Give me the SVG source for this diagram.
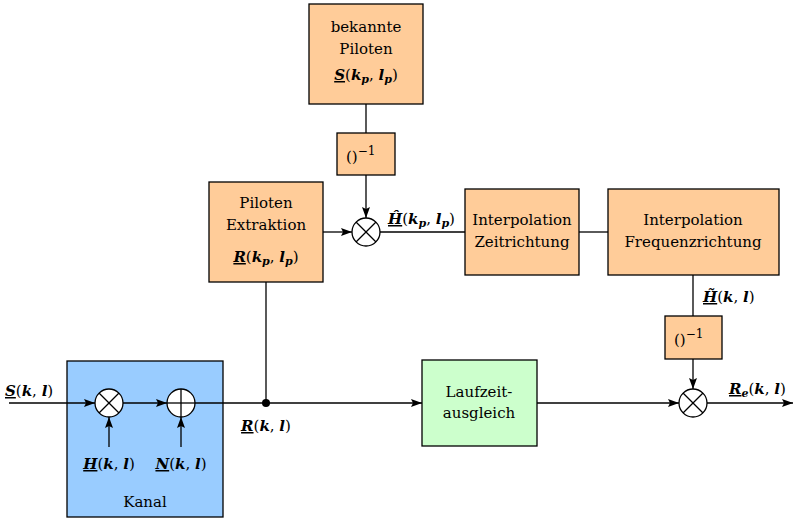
<svg xmlns="http://www.w3.org/2000/svg" width="793" height="518" viewBox="0 0 793 518" font-family="'DejaVu Serif', 'Liberation Serif', serif">
<style>
.box{stroke:#000;stroke-width:1.3}
.or{fill:#FFCC99}
.bl{fill:#99CCFF}
.gr{fill:#CCFFCC}
.op{fill:#fff;stroke:#000;stroke-width:1.3}
.x{stroke:#000;stroke-width:1.3}
.c{stroke:#000;stroke-width:1.3;fill:none}
text{font-family:'DejaVu Serif','Liberation Serif',serif;font-size:15px;fill:#000}
.b{font-weight:bold;font-style:italic}
.u{font-weight:bold;font-style:italic;text-decoration:underline}
.s{font-size:11px;font-weight:bold;font-style:italic}
</style>
<defs>
<marker id="ah" markerUnits="userSpaceOnUse" markerWidth="11" markerHeight="8" refX="11" refY="4" orient="auto">
<path d="M0,0 L11,4 L0,8 L2,4 z" fill="#000"/>
</marker>
</defs>

<g id="kanal">
<rect class="box bl" x="67" y="361" width="156" height="156"/>
<text x="145" y="507" text-anchor="middle">Kanal</text>
</g>

<g id="connectors">
<line class="c" x1="366" y1="104" x2="366" y2="133"/>
<line class="c" x1="366" y1="175" x2="366" y2="218" marker-end="url(#ah)"/>
<line class="c" x1="323" y1="232" x2="352" y2="232" marker-end="url(#ah)"/>
<line class="c" x1="380" y1="232" x2="465" y2="232"/>
<line class="c" x1="579" y1="232" x2="608" y2="232"/>
<line class="c" x1="693" y1="275" x2="693" y2="316"/>
<line class="c" x1="693" y1="359" x2="693" y2="389" marker-end="url(#ah)"/>
<line class="c" x1="9" y1="403" x2="95" y2="403" marker-end="url(#ah)"/>
<line class="c" x1="123" y1="403" x2="167" y2="403" marker-end="url(#ah)"/>
<line class="c" x1="195" y1="403" x2="422" y2="403" marker-end="url(#ah)"/>
<line class="c" x1="266" y1="403" x2="266" y2="282"/>
<circle cx="266" cy="403" r="4" fill="#000"/>
<line class="c" x1="109" y1="447" x2="109" y2="417" marker-end="url(#ah)"/>
<line class="c" x1="181" y1="447" x2="181" y2="417" marker-end="url(#ah)"/>
<line class="c" x1="537" y1="403" x2="679" y2="403" marker-end="url(#ah)"/>
<line class="c" x1="707" y1="403" x2="793" y2="403" marker-end="url(#ah)"/>
</g>

<g id="mult1">
<circle class="op" cx="109" cy="403" r="14"/>
<line class="x" x1="99" y1="393" x2="119" y2="413"/>
<line class="x" x1="119" y1="393" x2="99" y2="413"/>
</g>

<g id="add1">
<circle class="op" cx="181" cy="403" r="14"/>
<line class="x" x1="167" y1="403" x2="195" y2="403"/>
<line class="x" x1="181" y1="389" x2="181" y2="417"/>
</g>

<g id="bekannte">
<rect class="box or" x="309" y="4" width="114" height="100"/>
<text x="366" y="32" text-anchor="middle">bekannte</text>
<text x="366" y="54" text-anchor="middle">Piloten</text>
<text x="366" y="80" text-anchor="middle"><tspan class="u">S</tspan>(<tspan class="b">k</tspan><tspan class="s" dy="3">p</tspan><tspan dy="-3">, </tspan><tspan class="b">l</tspan><tspan class="s" dy="3">p</tspan><tspan dy="-3">)</tspan></text>
</g>

<g id="inv1">
<rect class="box or" x="337" y="133" width="58" height="42"/>
<text x="346" y="162" font-size="18">()<tspan font-size="12" dy="-7">−1</tspan></text>
</g>

<g id="mult2">
<circle class="op" cx="366" cy="232" r="14"/>
<line class="x" x1="356" y1="222" x2="376" y2="242"/>
<line class="x" x1="376" y1="222" x2="356" y2="242"/>
</g>

<g id="extraktion">
<rect class="box or" x="209" y="182" width="114" height="100"/>
<text x="266" y="208" text-anchor="middle">Piloten</text>
<text x="266" y="230" text-anchor="middle">Extraktion</text>
<text x="266" y="262" text-anchor="middle"><tspan class="u">R</tspan>(<tspan class="b">k</tspan><tspan class="s" dy="3">p</tspan><tspan dy="-3">, </tspan><tspan class="b">l</tspan><tspan class="s" dy="3">p</tspan><tspan dy="-3">)</tspan></text>
</g>

<g id="zeit">
<rect class="box or" x="465" y="189" width="114" height="86"/>
<text x="522" y="225" text-anchor="middle">Interpolation</text>
<text x="522" y="247" text-anchor="middle">Zeitrichtung</text>
</g>

<g id="frequenz">
<rect class="box or" x="608" y="189" width="171" height="86"/>
<text x="693" y="225" text-anchor="middle">Interpolation</text>
<text x="693" y="247" text-anchor="middle">Frequenzrichtung</text>
</g>

<g id="inv2">
<rect class="box or" x="665" y="316" width="57" height="43"/>
<text x="674" y="345" font-size="18">()<tspan font-size="12" dy="-7">−1</tspan></text>
</g>

<g id="mult3">
<circle class="op" cx="693" cy="403" r="14"/>
<line class="x" x1="683" y1="393" x2="703" y2="413"/>
<line class="x" x1="703" y1="393" x2="683" y2="413"/>
</g>

<g id="laufzeit">
<rect class="box gr" x="422" y="360" width="115" height="86"/>
<text x="479" y="397" text-anchor="middle">Laufzeit-</text>
<text x="479" y="418" text-anchor="middle">ausgleich</text>
</g>

<g id="labels">
<text x="5" y="396"><tspan class="u">S</tspan>(<tspan class="b">k</tspan>, <tspan class="b">l</tspan>)</text>
<text x="109" y="469" text-anchor="middle"><tspan class="u">H</tspan>(<tspan class="b">k</tspan>, <tspan class="b">l</tspan>)</text>
<text x="181" y="469" text-anchor="middle"><tspan class="u">N</tspan>(<tspan class="b">k</tspan>, <tspan class="b">l</tspan>)</text>
<text x="266" y="431" text-anchor="middle"><tspan class="u">R</tspan>(<tspan class="b">k</tspan>, <tspan class="b">l</tspan>)</text>
<text x="388" y="224"><tspan class="u">H&#x0302;</tspan>(<tspan class="b">k</tspan><tspan class="s" dy="3">p</tspan><tspan dy="-3">, </tspan><tspan class="b">l</tspan><tspan class="s" dy="3">p</tspan><tspan dy="-3">)</tspan></text>
<text x="703" y="302"><tspan class="u">H&#x0303;</tspan>(<tspan class="b">k</tspan>, <tspan class="b">l</tspan>)</text>
<text x="729" y="394"><tspan class="u">R</tspan><tspan class="s" dy="3">e</tspan><tspan dy="-3">(</tspan><tspan class="b">k</tspan>, <tspan class="b">l</tspan>)</text>
</g>
</svg>
